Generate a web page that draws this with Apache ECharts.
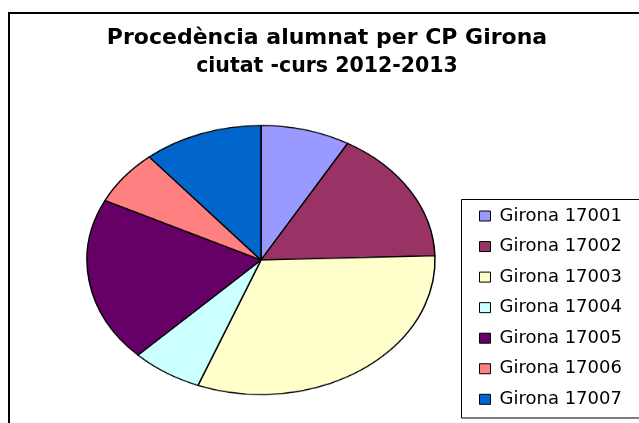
<!DOCTYPE html>
<html>
<head>
<meta charset="utf-8">
<script src="https://cdn.jsdelivr.net/npm/echarts@6/dist/echarts.min.js"></script>
<style>
  html, body { margin: 0; padding: 0; background: #fff; }
  #wrap { position: relative; width: 639px; height: 423px; overflow: hidden; }
  #main { position: absolute; left: 0; top: 0; width: 639px; height: 423px; }
  /* the pie in the reference is drawn flattened, so squash its own canvas */
  #pie {
    position: absolute; left: 81px; top: 80px; width: 360px; height: 360px;
    transform: scaleY(0.773); transform-origin: 50% 50%;
  }
</style>
</head>
<body>
<div id="wrap">
  <div id="main"></div>
  <div id="pie"></div>
</div>
<script>
const categories = ['Girona 17001', 'Girona 17002', 'Girona 17003', 'Girona 17004',
  'Girona 17005', 'Girona 17006', 'Girona 17007']
const values = [83, 162, 314, 66, 198, 66, 111]
const colors = ['#9999FF', '#993366', '#FFFFCC', '#CCFFFF', '#660066', '#FF8080', '#0066CC']

const pieData = categories.map((name, i) => ({ name: name, value: values[i] }))

const mainChart = echarts.init(document.getElementById('main'))
mainChart.setOption({
  backgroundColor: '#fff',
  color: colors,
  animation: false,
  title: {
    text: '{a|Procedència alumnat per CP Girona}\n{b|ciutat -curs 2012-2013}',
    left: 327,
    textAlign: 'center',
    top: 23.5,
    padding: 0,
    textStyle: {
      rich: {
        a: { fontFamily: 'DejaVu Sans', fontWeight: 'bold', fontSize: 22, lineHeight: 29, color: '#000' },
        b: { fontFamily: 'DejaVu Sans', fontWeight: 'bold', fontSize: 20.5, lineHeight: 29, color: '#000' }
      }
    }
  },
  legend: {
    orient: 'vertical',
    left: 479,
    top: 207,
    icon: 'rect',
    itemWidth: 11,
    itemHeight: 10,
    itemGap: 12.55,
    padding: 0,
    selectedMode: false,
    itemStyle: { borderColor: '#000', borderWidth: 1 },
    textStyle: {
      fontFamily: 'DejaVu Sans',
      fontSize: 18,
      lineHeight: 18,
      color: '#000',
      padding: [0, 0, 0, 4]
    },
    data: categories
  },
  graphic: [
    {
      type: 'rect',
      shape: { x: 9, y: 13, width: 700, height: 500 },
      style: { fill: 'none', stroke: '#000', lineWidth: 2 }
    },
    {
      type: 'rect',
      shape: { x: 461.5, y: 199.5, width: 300, height: 218.5 },
      style: { fill: 'none', stroke: '#000', lineWidth: 1 }
    }
  ],
  series: [{
    // only feeds the legend, kept off screen
    type: 'pie',
    center: [-500, -500],
    radius: 1,
    silent: true,
    label: { show: false },
    data: pieData
  }]
})

const pieChart = echarts.init(document.getElementById('pie'))
pieChart.setOption({
  color: colors,
  animation: false,
  series: [{
    type: 'pie',
    center: ['50%', '50%'],
    radius: 174,
    startAngle: 90,
    clockwise: true,
    silent: true,
    label: { show: false },
    labelLine: { show: false },
    itemStyle: { borderColor: '#000', borderWidth: 1.5 },
    data: pieData
  }]
})
</script>
</body>
</html>
